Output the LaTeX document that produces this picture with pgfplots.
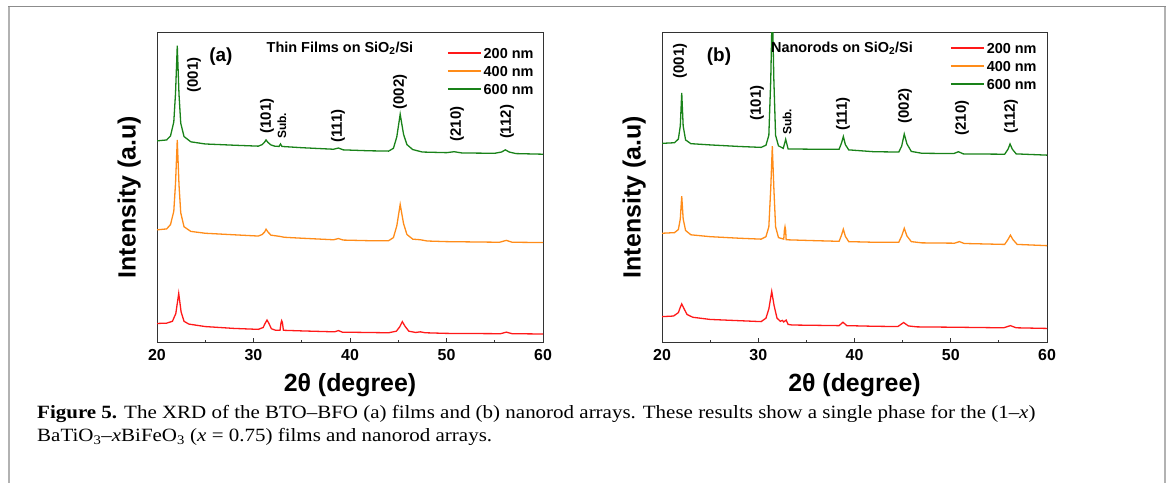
\documentclass[border=0pt]{standalone}
\usepackage{fontspec}
\setmainfont{Liberation Sans}
\newfontfamily\capfont[FakeStretch=1.12]{Liberation Serif}
\usepackage{pgfplots}
\pgfplotsset{compat=1.18}
\definecolor{cred}{RGB}{255,25,25}
\definecolor{corange}{RGB}{255,140,25}
\definecolor{cgreen}{RGB}{25,130,25}
\newcommand{\lblfont}{\fontsize{15}{15}\selectfont\bfseries}
\newcommand{\subfont}{\fontsize{12}{12}\selectfont\bfseries}
\pgfplotsset{
 xrdaxis/.style={
  scale only axis, width=386bp, height=310bp,
  xmin=20, xmax=60, ymin=0, ymax=100,
  xtick={20,30,...,60}, minor x tick num=1, ytick=\empty,
  xtick pos=bottom, tick align=inside,
  major tick length=5bp, minor tick length=3bp,
  axis line style={line width=1bp, black!80},
  every tick/.style={black!80, line width=0.8bp},
  /pgf/number format/assume math mode=true,
  ticklabel style={font=\fontsize{16}{16}\selectfont\bfseries, yshift=-3bp},
  xlabel={2θ (degree)}, ylabel={Intensity (a.u)},
  label style={font=\fontsize{25}{25}\selectfont\bfseries},
  xlabel style={at={(axis description cs:0.5,-0.135)}, anchor=center},
  ylabel style={at={(axis description cs:-0.072,0.47)}, anchor=center},
  legend style={draw=none, fill=none, inner sep=0pt, row sep=5.5bp,
    font=\fontsize{14.5}{14.5}\selectfont\bfseries, anchor=north west,
    nodes={inner sep=1bp, text height=10.5bp, text depth=0bp},
    /tikz/every odd column/.append style={column sep=1bp}},
  legend cell align=left,
  legend image code/.code={\draw[##1, line width=1.6bp] (0bp,0bp) -- (33bp,0bp);},
  every axis plot/.append style={line width=1.3bp, no markers},
 }
}
\begin{document}
\begin{tikzpicture}
\useasboundingbox (0bp,0bp) rectangle (1168bp,483bp);
\draw[line width=1.6bp, black!30] (9bp,0bp) -- (9bp,476.5bp);
\draw[line width=1.6bp, black!30] (1165bp,0bp) -- (1165bp,476.5bp);
\draw[line width=1.4bp, black!45] (8.2bp,476.5bp) -- (1165.8bp,476.5bp);

% ---------------- panel (a) ----------------
\begin{axis}[xrdaxis, at={(157bp,140bp)}, anchor=south west,
  legend style={at={(axis description cs:0.751,0.957)}}]
\addplot[cred] coordinates {
(20.0,6.3) (21.0,6.4) (21.6,7.0) (21.95,9.5) (22.25,16.0) (22.5,10.0) (22.8,7.0)
(23.3,6.1) (25.0,5.3) (28.0,4.7) (30.5,4.4) (31.0,5.0) (31.2,6.3) (31.4,7.4)
(31.6,6.3) (31.85,4.6) (32.3,4.1) (32.75,4.1) (32.85,6.5) (32.92,7.2) (33.0,6.5)
(33.1,4.1) (35.0,3.9) (38.4,3.6) (38.8,4.0) (39.2,3.5) (44.0,3.3) (44.8,3.8)
(45.15,5.2) (45.42,6.9) (45.7,5.4) (46.1,3.8) (46.8,3.4) (47.3,3.6) (47.8,3.3)
(50.0,3.1) (55.6,3.0) (56.2,3.5) (56.8,3.0) (60.0,2.9)};
\addlegendentry{200 nm}
\addplot[corange] coordinates {
(20.0,36.5) (21.0,36.8) (21.4,38.2) (21.74,42.5) (21.92,51.5) (22.1,65.5) (22.28,51.0)
(22.46,42.0) (22.8,37.5) (23.5,36.0) (25.0,35.4) (28.0,34.9) (30.5,34.5) (30.9,35.0)
(31.15,35.8) (31.3,36.7) (31.5,35.8) (31.8,34.8) (32.7,34.4) (33.2,34.1) (35.0,33.8)
(38.3,33.3) (38.8,33.7) (39.3,33.2) (42.0,33.0) (44.0,33.0) (44.5,34.0) (44.85,37.8)
(45.2,44.7) (45.55,38.5) (45.9,35.0) (46.5,33.5) (47.3,33.3) (48.0,32.9) (50.0,32.7)
(55.5,32.5) (56.2,33.1) (56.8,32.5) (60.0,32.4)};
\addlegendentry{400 nm}
\addplot[cgreen] coordinates {
(20.0,65.2) (21.0,65.5) (21.4,66.8) (21.74,71.3) (21.92,80.6) (22.1,95.9) (22.28,80.2)
(22.46,70.9) (22.8,66.6) (23.5,64.9) (25.0,64.2) (28.0,63.8) (30.5,63.5) (30.9,64.0)
(31.15,64.8) (31.3,65.5) (31.5,64.7) (31.8,63.9) (32.2,63.5) (32.65,63.4) (32.8,64.2)
(32.95,63.4) (35.0,63.0) (38.3,62.5) (38.8,62.9) (39.3,62.3) (42.0,62.0) (44.0,61.9)
(44.5,62.8) (44.85,66.5) (45.2,73.8) (45.55,67.3) (45.9,64.0) (46.5,62.4) (47.5,61.6)
(50.0,61.4) (50.8,61.7) (51.6,61.3) (55.0,61.2) (55.7,61.6) (56.1,62.3) (56.5,61.6)
(57.2,61.1) (60.0,60.9)};
\addlegendentry{600 nm}
\node[font=\fontsize{14.5}{14.5}\selectfont\bfseries] at (axis cs:38.96,95.2) {Thin Films on SiO\textsubscript{2}/Si};
\node[font=\fontsize{19}{19}\selectfont\bfseries] at (axis cs:26.63,92.3) {(a)};
\node[font=\lblfont, rotate=90] at (axis cs:23.83,86.5) {(001)};
\node[font=\lblfont, rotate=90] at (axis cs:31.40,73.2) {(101)};
\node[font=\subfont, rotate=90] at (axis cs:32.95,70.0) {Sub.};
\node[font=\lblfont, rotate=90] at (axis cs:38.76,70.0) {(111)};
\node[font=\lblfont, rotate=90] at (axis cs:45.18,81.0) {(002)};
\node[font=\lblfont, rotate=90] at (axis cs:51.09,70.6) {(210)};
\node[font=\lblfont, rotate=90] at (axis cs:56.27,71.3) {(112)};
\end{axis}

% ---------------- panel (b) ----------------
\begin{axis}[xrdaxis, width=385bp, at={(662bp,140bp)}, anchor=south west,
  legend style={at={(axis description cs:0.748,0.972)}}]
\addplot[cred] coordinates {
(20.0,8.5) (21.2,8.7) (21.7,9.8) (21.9,11.5) (22.05,12.6) (22.3,11.0) (22.6,9.2)
(23.2,8.3) (25.0,7.6) (28.0,7.2) (30.3,6.9) (30.8,8.0) (31.1,11.0) (31.4,16.6)
(31.65,12.0) (31.95,8.0) (32.3,7.0) (32.5,7.3) (32.65,6.8) (32.9,7.4) (33.1,6.0)
(33.5,5.8) (36.0,5.7) (38.4,5.6) (38.8,6.7) (39.2,5.6) (42.0,5.4) (44.5,5.3)
(45.1,6.6) (45.6,5.5) (46.5,5.2) (50.0,5.1) (55.5,4.9) (56.2,5.6) (56.8,4.9) (60.0,4.7)};
\addlegendentry{200 nm}
\addplot[corange] coordinates {
(20.0,35.4) (21.3,35.6) (21.7,36.6) (21.9,40.0) (22.05,47.4) (22.2,40.0) (22.45,36.3)
(23.0,34.9) (25.0,34.3) (28.0,33.8) (30.3,33.5) (30.8,34.3) (31.1,37.5) (31.3,50.0)
(31.46,63.5) (31.62,50.0) (31.8,37.5) (32.1,34.0) (32.65,33.5) (32.72,36.5) (32.78,37.5)
(32.84,36.5) (32.9,33.3) (36.0,33.0) (38.4,32.8) (38.65,34.8) (38.84,36.7) (39.05,34.4)
(39.4,32.7) (42.0,32.5) (44.6,32.5) (44.9,34.5) (45.17,37.0) (45.45,34.5) (45.9,32.7)
(47.0,32.3) (50.4,32.2) (50.9,32.7) (51.4,32.1) (55.6,31.8) (55.95,33.4) (56.2,34.8)
(56.45,33.4) (56.9,31.8) (60.0,31.4)};
\addlegendentry{400 nm}
\addplot[cgreen] coordinates {
(20.0,64.4) (21.3,64.6) (21.7,65.8) (21.9,70.0) (22.05,80.7) (22.2,70.0) (22.45,65.5)
(23.0,64.3) (25.0,63.9) (28.0,63.4) (30.3,63.1) (30.8,63.8) (31.1,67.0) (31.3,85.0)
(31.46,110.0) (31.62,85.0) (31.8,67.0) (32.1,63.6) (32.6,62.8) (32.75,64.5) (32.85,65.7)
(32.95,64.5) (33.1,62.6) (36.0,62.5) (38.4,62.5) (38.65,64.5) (38.84,66.6) (39.05,64.0)
(39.4,62.3) (42.0,61.7) (44.6,61.6) (44.9,63.5) (45.17,67.4) (45.45,64.2) (45.9,61.8)
(47.0,61.2) (50.3,61.1) (50.8,61.7) (51.3,61.0) (55.6,60.9) (55.95,62.5) (56.16,64.2)
(56.4,62.5) (56.8,61.0) (60.0,60.6)};
\addlegendentry{600 nm}
\node[font=\fontsize{14.5}{14.5}\selectfont\bfseries] at (axis cs:38.70,95.2) {Nanorods on SiO\textsubscript{2}/Si};
\node[font=\fontsize{19}{19}\selectfont\bfseries] at (axis cs:25.92,92.3) {(b)};
\node[font=\lblfont, rotate=90] at (axis cs:21.87,91.0) {(001)};
\node[font=\lblfont, rotate=90] at (axis cs:29.87,77.4) {(101)};
\node[font=\subfont, rotate=90] at (axis cs:32.99,71.3) {Sub.};
\node[font=\lblfont, rotate=90] at (axis cs:38.81,73.9) {(111)};
\node[font=\lblfont, rotate=90] at (axis cs:45.25,76.5) {(002)};
\node[font=\lblfont, rotate=90] at (axis cs:51.17,72.6) {(210)};
\node[font=\lblfont, rotate=90] at (axis cs:56.26,73.2) {(112)};
\end{axis}

% caption
\node[anchor=north west, inner sep=0pt, align=left, font=\capfont\fontsize{18.8}{23}\selectfont] at (37bp,78bp)
{\textbf{Figure 5.} The XRD of the BTO–BFO (a) films and (b) nanorod arrays. These results show a single phase for the (1–\textit{x})\\
BaTiO\textsubscript{3}–\textit{x}BiFeO\textsubscript{3} (\textit{x} = 0.75) films and nanorod arrays.};
\end{tikzpicture}
\end{document}
